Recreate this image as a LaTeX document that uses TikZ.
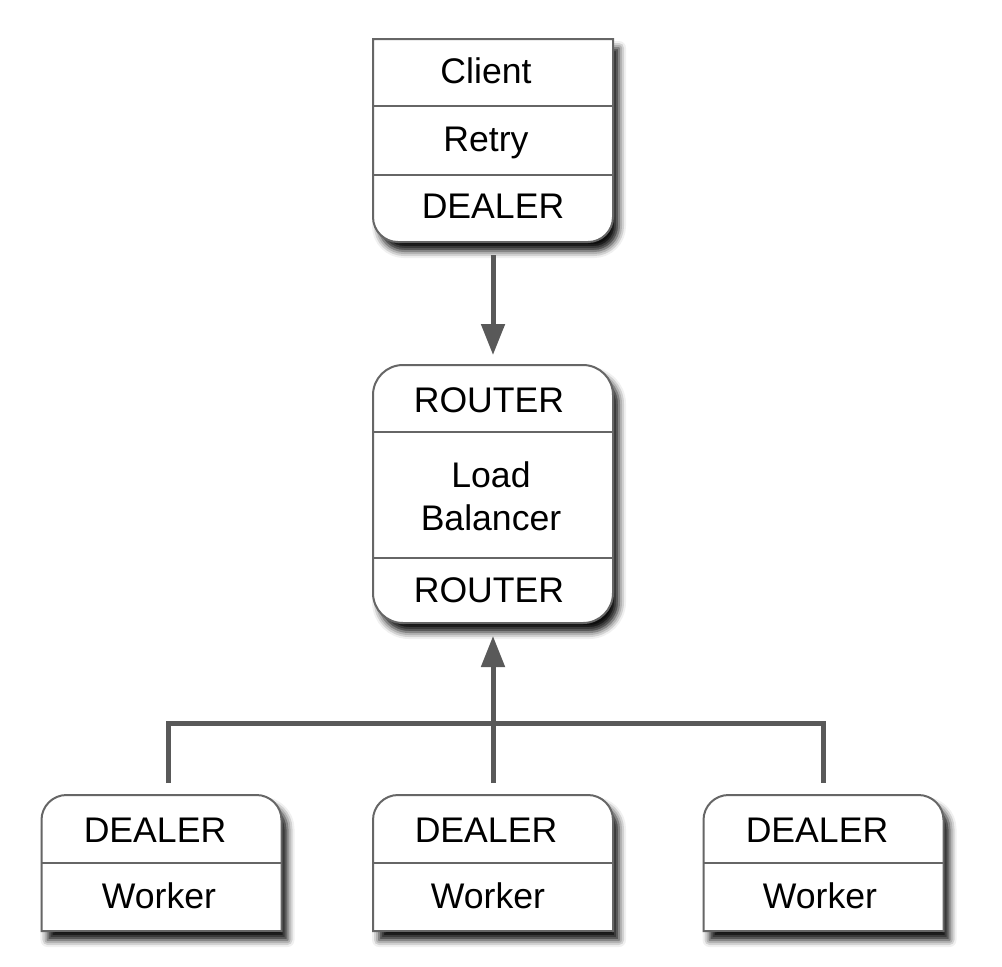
\documentclass[tikz,border=0pt]{standalone}
\usepackage{fontspec}
\setmainfont{Liberation Sans}
\usetikzlibrary{arrows.meta,shadows.blur}

\tikzset{
  panelbox/.style={minimum width=120pt, inner sep=0pt, outer sep=0pt},
  panel/.style={draw=black!60, line width=1pt, fill=white,
    blur shadow={shadow xshift=3pt, shadow yshift=-4.5pt, shadow blur radius=3.5pt, shadow opacity=95}},
  divider/.style={draw=black!60, line width=1pt},
  link/.style={draw=black!65, line width=2.5pt},
  tip/.style={-{Triangle[length=15.5pt,width=11.5pt]}},
  txt/.style={inner sep=0pt, anchor=base, font=\fontsize{17.8}{21.5}\selectfont},
}

\newcommand{\drawpanel}[6]{% Parameters: name, centre x, top, height, top corners, bottom corners
  \node[panelbox, minimum height=#4*0.5pt] (#1) at (#2,#3+#4/2) {};
  \path[panel] (#1.north) [#5] -- (#1.north east) -- (#1.east) [#6] -- (#1.south east)
    -- (#1.south west) -- (#1.west) [#5] -- (#1.north west) -- cycle;
}
\newcommand{\drawdivider}[2]{% Parameters: panel, y
  \draw[divider] (#1.west |- 0,#2) -- (#1.east |- 0,#2);
}

\begin{document}
\begin{tikzpicture}[x=0.5pt,y=-0.5pt]
  \useasboundingbox (0,0) rectangle (1002,966);

  % client
  \drawpanel{clientbox}{493}{39}{203}{sharp corners}{rounded corners=12.5pt}
  \drawdivider{clientbox}{106}
  \drawdivider{clientbox}{175}
  \node[txt] (client) at (486,83) {Client};
  \node[txt] (retry) at (486,151) {Retry};
  \node[txt] (cdealer) at (493,218) {DEALER};

  % load balancer
  \drawpanel{lbbox}{493}{365}{258}{rounded corners=15pt}{rounded corners=15pt}
  \drawdivider{lbbox}{432}
  \drawdivider{lbbox}{558}
  \node[txt] (frontend) at (489,412) {ROUTER};
  \node[txt, align=center] (lb) at (491,530) {Load\\Balancer};
  \node[txt] (backend) at (489,602) {ROUTER};

  % workers
  \drawpanel{w1box}{161.5}{795}{136}{rounded corners=12.5pt}{sharp corners}
  \drawpanel{w2box}{493}{795}{136}{rounded corners=12.5pt}{sharp corners}
  \drawpanel{w3box}{823.5}{795}{136}{rounded corners=12.5pt}{sharp corners}
  \drawdivider{w1box}{863}
  \drawdivider{w2box}{863}
  \drawdivider{w3box}{863}
  \node[txt] (w1dealer) at (155,842) {DEALER};
  \node[txt] (w1) at (159,908) {Worker};
  \node[txt] (w2dealer) at (486,842) {DEALER};
  \node[txt] (w2) at (488,908) {Worker};
  \node[txt] (w3dealer) at (817,842) {DEALER};
  \node[txt] (w3) at (820,908) {Worker};

  % connectors
  \draw[link, tip, shorten <=6.5pt, shorten >=5pt] (clientbox.south) -- (lbbox.north);
  \coordinate (bus) at (493,723);
  \draw[link] ([xshift=3.25pt,yshift=6pt]w1box.north) |- (bus) -| ([yshift=6pt]w3box.north);
  \draw[link, tip, shorten <=6pt, shorten >=6.5pt] (w2box.north) -- (lbbox.south);
\end{tikzpicture}
\end{document}
